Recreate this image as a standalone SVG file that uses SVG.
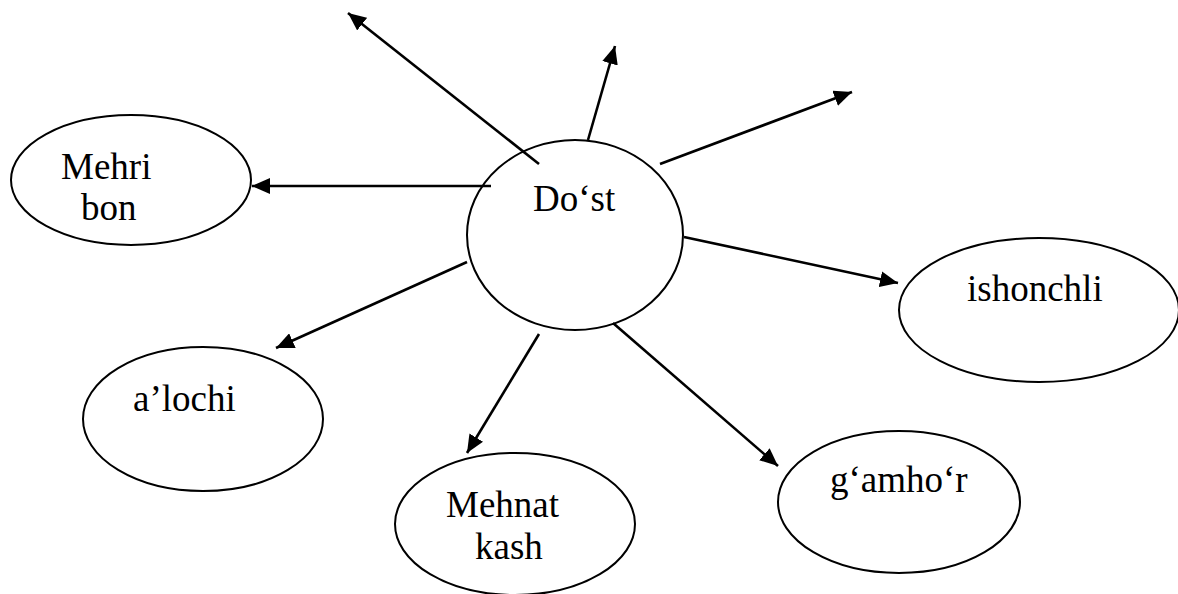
<svg xmlns="http://www.w3.org/2000/svg" width="1178" height="594" viewBox="0 0 1178 594">
<style>
.n{fill:#fff;stroke:#000;stroke-width:2}
.t{font-family:"Liberation Serif","Times New Roman",serif;font-size:37px;fill:#000}
.c line{stroke:#000;stroke-width:2.6;marker-end:url(#ah)}
</style>
<defs>
<marker id="ah" markerUnits="userSpaceOnUse" markerWidth="20" markerHeight="16" refX="18" refY="8" orient="auto">
<path d="M0,0 L18,8 L0,16 z" fill="#000"/>
</marker>
</defs>
<rect width="1178" height="594" fill="#fff"/>
<g id="dost"><ellipse class="n" cx="575" cy="235" rx="108" ry="95"/><text class="t" x="533" y="211">Do‘st</text></g>
<g id="mehribon"><ellipse class="n" cx="131" cy="180" rx="120" ry="65"/><text class="t" x="61" y="179">Mehri</text><text class="t" x="81" y="220">bon</text></g>
<g id="ishonchli"><ellipse class="n" cx="1039" cy="310" rx="140" ry="72"/><text class="t" x="967" y="301">ishonchli</text></g>
<g id="alochi"><ellipse class="n" cx="203" cy="419" rx="120" ry="72"/><text class="t" x="133" y="411">a’lochi</text></g>
<g id="mehnatkash"><ellipse class="n" cx="515" cy="524" rx="120" ry="71"/><text class="t" x="446" y="517">Mehnat</text><text class="t" x="475" y="559">kash</text></g>
<g id="gamhor"><ellipse class="n" cx="899" cy="502" rx="121" ry="71"/><text class="t" x="830" y="492">g‘amho‘r</text></g>
<g class="c" id="connectors">
<line x1="539" y1="164" x2="348" y2="13"/>
<line x1="588" y1="140" x2="615" y2="46"/>
<line x1="660" y1="164" x2="852" y2="92"/>
<line x1="491" y1="186" x2="252" y2="186"/>
<line x1="684" y1="237" x2="898" y2="283"/>
<line x1="467" y1="262" x2="276" y2="348"/>
<line x1="539" y1="334" x2="467" y2="453"/>
<line x1="613" y1="323" x2="778" y2="466"/>
</g>
</svg>
